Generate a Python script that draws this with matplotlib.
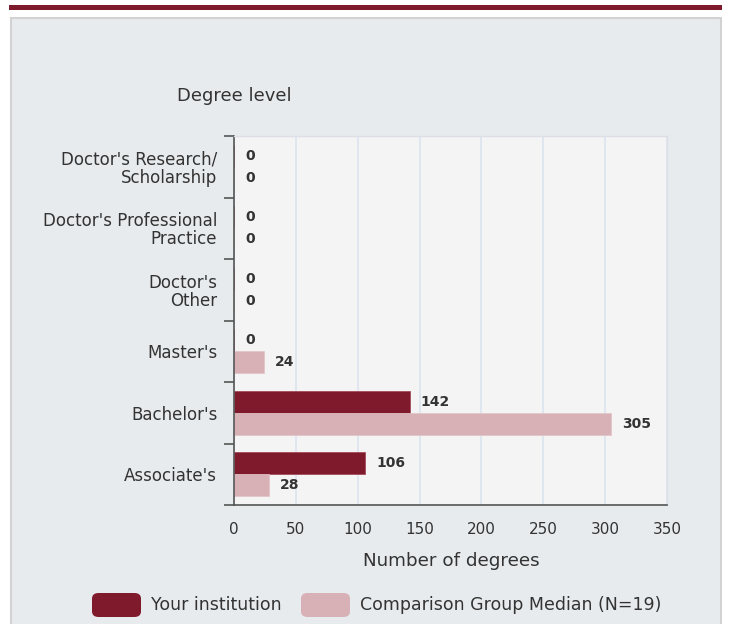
import matplotlib
matplotlib.use("Agg")
import matplotlib.pyplot as plt
from matplotlib.patches import Rectangle, FancyBboxPatch
import numpy as np

plt.rcParams['font.family'] = ['DejaVu Sans']

categories = ["Doctor's Research/\nScholarship", "Doctor's Professional\nPractice",
              "Doctor's\nOther", "Master's", "Bachelor's", "Associate's"]
your_inst = [0, 0, 0, 0, 142, 106]
comparison = [0, 0, 0, 24, 305, 28]
xticks = [0, 50, 100, 150, 200, 250, 300, 350]
series_names = ["Your institution", "Comparison Group Median (N=19)"]

maroon = "#7f1a2c"
pink = "#d8b1b7"
txt = "#333333"

W, H = 731, 624
fig = plt.figure(figsize=(W / 100, H / 100), dpi=100)
fig.patch.set_facecolor("white")

def fx(px):
    return px / W

def fy(py):
    return 1 - py / H

# top maroon bar
fig.patches.append(Rectangle((fx(9), fy(10)), fx(722) - fx(9), fy(5) - fy(10),
                             transform=fig.transFigure, facecolor="#7d1a2b", edgecolor="none",
                             zorder=-2))
# panel background
fig.patches.append(Rectangle((fx(11), fy(630)), fx(721) - fx(11), fy(18) - fy(630),
                             transform=fig.transFigure, facecolor="#e8ebee",
                             edgecolor="#d2d2d2", linewidth=1.5, zorder=-2))

ax = fig.add_axes([fx(234), fy(505), fx(667) - fx(234), fy(136) - fy(505)])
ax.set_facecolor("#f4f4f4")

n = len(categories)
y = np.arange(n)
bh = 0.355
ax.barh(y - bh / 2, your_inst, height=bh, color=maroon, edgecolor="#a04050", linewidth=0.5)
ax.barh(y + bh / 2, comparison, height=bh, color=pink, edgecolor="#e2c4c8", linewidth=0.5)

for yi, v in zip(y, your_inst):
    ax.annotate(str(v), (v, yi - bh / 2), xytext=(8, 0), textcoords="offset points",
                va="center", ha="left", fontsize=10, fontweight="bold", color=txt)
for yi, v in zip(y, comparison):
    ax.annotate(str(v), (v, yi + bh / 2), xytext=(8, 0), textcoords="offset points",
                va="center", ha="left", fontsize=10, fontweight="bold", color=txt)

ax.set_xlim(0, 350)
ax.set_ylim(n - 0.5, -0.5)
ax.set_xticks(xticks)
ax.set_xticklabels([str(t) for t in xticks])
ax.tick_params(axis="x", length=0, pad=12, labelsize=11, labelcolor=txt)

ax.set_yticks(y)
ax.set_yticklabels(categories, ha="right", linespacing=1.0)
ax.set_yticks(np.arange(-0.5, n, 1), minor=True)
ax.tick_params(axis="y", which="major", length=0, pad=12, labelsize=12, labelcolor=txt)
ax.tick_params(axis="y", which="minor", length=7, width=1.2, color="#555555")

ax.grid(axis="x", color="#dde4ee", linewidth=1.2)
ax.set_axisbelow(True)

for s in ["top", "right"]:
    ax.spines[s].set_color("#dcdfe6")
    ax.spines[s].set_linewidth(1)
for s in ["left", "bottom"]:
    ax.spines[s].set_color("#555555")
    ax.spines[s].set_linewidth(1.2)

fig.text(fx(177), fy(96), "Degree level", fontsize=13, color=txt, ha="left", va="center")
fig.text(fx(451), fy(561), "Number of degrees", fontsize=13.2, color=txt, ha="center", va="center")

# legend
for (x0, x1, col, label, tx) in [(92, 141, maroon, series_names[0], 151),
                                 (301, 350, pink, series_names[1], 360)]:
    fig.patches.append(FancyBboxPatch((fx(x0), fy(617)), fx(x1) - fx(x0), fy(593) - fy(617),
                                      boxstyle="round,pad=0,rounding_size=0.009",
                                      transform=fig.transFigure, facecolor=col, edgecolor="none"))
    fig.text(fx(tx), fy(605), label, fontsize=12.5, color=txt, ha="left", va="center")

fig.savefig("out.png", dpi=100)
